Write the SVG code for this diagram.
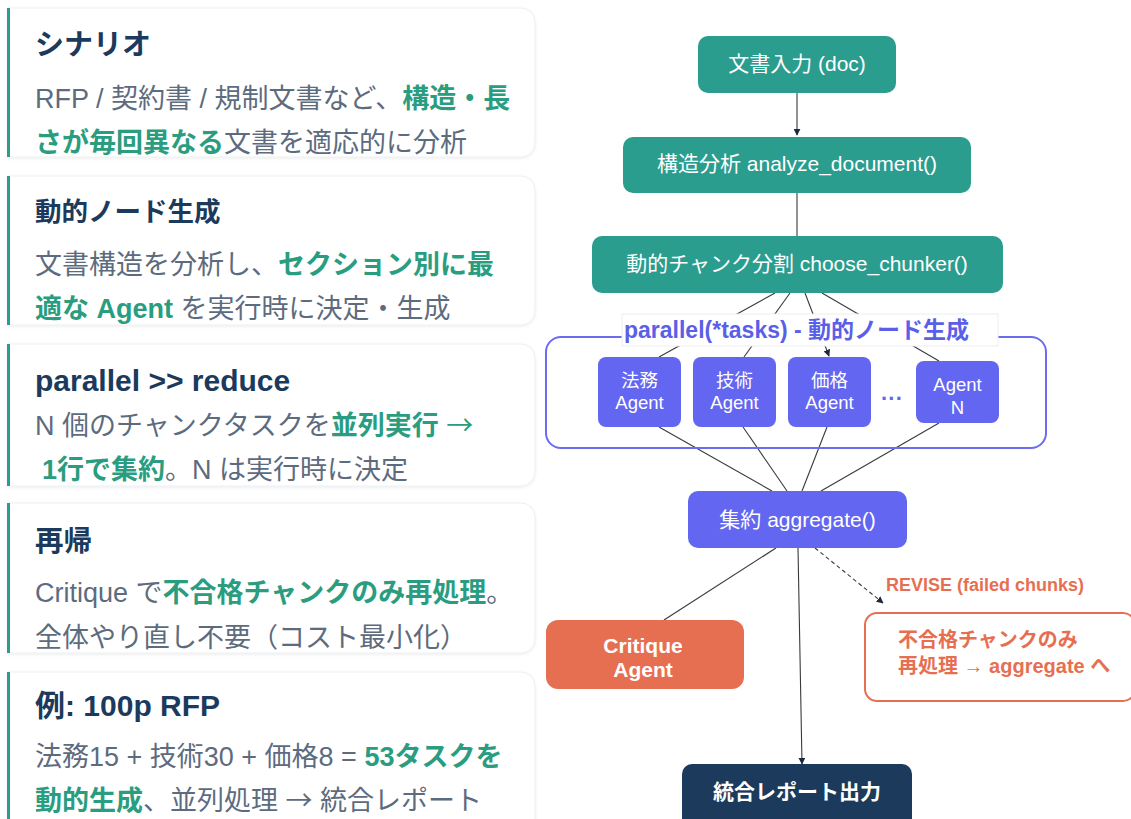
<svg xmlns="http://www.w3.org/2000/svg" width="1131" height="819" viewBox="0 0 1131 819">
<defs>
<marker id="ah" viewBox="0 0 10 10" refX="9" refY="5" markerWidth="7" markerHeight="7" markerUnits="userSpaceOnUse" orient="auto"><path d="M0,0 L10,5 L0,10 Z" fill="#1e293b"/></marker>
<filter id="sh" x="-5%" y="-10%" width="110%" height="125%"><feDropShadow dx="0" dy="1" stdDeviation="1.5" flood-color="#000" flood-opacity="0.08"/></filter>
<style>
text{font-family:"Liberation Sans","Noto Sans CJK JP",sans-serif}
.card{fill:#fff;stroke:#eceff3;stroke-width:1;filter:url(#sh)}
.bar{fill:#2a9d8f}
.ttl{font-weight:700;fill:#1b3a5c}
.bd{font-size:27px;fill:#5d6b7e}
.hl{fill:#2a9d80;font-weight:700}
.arr{font-family:"Noto Sans CJK JP",sans-serif;font-weight:400}
.teal{fill:#2a9d8f}
.ind{fill:#6366f1}
.nt{fill:#fff;font-size:21px;text-anchor:middle}
.at{fill:#fff;font-size:18.5px;text-anchor:middle}
.ln{stroke:#3a3a3a;stroke-width:1.1;fill:none}
.or{fill:#e76f51}
</style>
</defs>

<g id="card-scenario">
<path class="card" d="M8,8 H521 a14,14 0 0 1 14,14 V143 a14,14 0 0 1 -14,14 H8 Z"/>
<rect class="bar" x="7" y="8" width="3" height="149"/>
<text class="ttl" x="35" y="55" font-size="29">シナリオ</text>
<text class="bd" x="35" y="108">RFP / 契約書 / 規制文書など、<tspan class="hl">構造・長</tspan></text>
<text class="bd" x="35" y="152"><tspan class="hl">さが毎回異なる</tspan>文書を適応的に分析</text>
</g>

<g id="card-dynamic">
<path class="card" d="M8,176 H521 a14,14 0 0 1 14,14 V311 a14,14 0 0 1 -14,14 H8 Z"/>
<rect class="bar" x="7" y="176" width="3" height="149"/>
<text class="ttl" x="35" y="221" font-size="26.5">動的ノード生成</text>
<text class="bd" x="35" y="274">文書構造を分析し、<tspan class="hl">セクション別に最</tspan></text>
<text class="bd" x="35" y="318"><tspan class="hl">適な Agent</tspan> を実行時に決定・生成</text>
</g>

<g id="card-parallel">
<path class="card" d="M8,344 H521 a14,14 0 0 1 14,14 V472 a14,14 0 0 1 -14,14 H8 Z"/>
<rect class="bar" x="7" y="344" width="3" height="142"/>
<text class="ttl" x="35" y="391" font-size="30">parallel &gt;&gt; reduce</text>
<text class="bd" x="35" y="435">N 個のチャンクタスクを<tspan class="hl">並列実行 </tspan><tspan class="hl arr">→</tspan></text>
<text class="bd" x="42" y="479"><tspan class="hl">1行で集約</tspan>。N は実行時に決定</text>
</g>

<g id="card-recursion">
<path class="card" d="M8,503 H521 a14,14 0 0 1 14,14 V639 a14,14 0 0 1 -14,14 H8 Z"/>
<rect class="bar" x="7" y="503" width="3" height="150"/>
<text class="ttl" x="35" y="551" font-size="28.5">再帰</text>
<text class="bd" x="35" y="602">Critique で<tspan class="hl">不合格チャンクのみ再処理</tspan>。</text>
<text class="bd" x="35" y="647">全体やり直し不要（コスト最小化）</text>
</g>

<g id="card-example">
<path class="card" d="M8,672 H521 a14,14 0 0 1 14,14 V830 H8 Z"/>
<rect class="bar" x="7" y="672" width="3" height="150"/>
<text class="ttl" x="35" y="716" font-size="30">例: 100p RFP</text>
<text class="bd" x="35" y="766">法務15 + 技術30 + 価格8 = <tspan class="hl">53タスクを</tspan></text>
<text class="bd" x="35" y="810"><tspan class="hl">動的生成</tspan>、並列処理 <tspan class="arr">→</tspan> 統合レポート</text>
</g>

<g id="connectors">
<line class="ln" x1="797" y1="93" x2="797" y2="135" marker-end="url(#ah)"/>
<line class="ln" x1="797" y1="193" x2="797" y2="236"/>
<line class="ln" x1="775" y1="293" x2="659" y2="357"/>
<line class="ln" x1="790" y1="293" x2="744" y2="357"/>
<line class="ln" x1="805" y1="293" x2="829" y2="356" marker-end="url(#ah)"/>
<line class="ln" x1="822" y1="293" x2="939" y2="361"/>
<line class="ln" x1="659" y1="427" x2="772" y2="491"/>
<line class="ln" x1="743" y1="427" x2="787" y2="491"/>
<line class="ln" x1="827" y1="427" x2="802" y2="491"/>
<line class="ln" x1="939" y1="423" x2="821" y2="491"/>
<line class="ln" x1="776" y1="548" x2="664" y2="620"/>
<line class="ln" x1="815" y1="548" x2="883" y2="603" stroke-dasharray="4,3" marker-end="url(#ah)"/>
<line class="ln" x1="798" y1="548" x2="802" y2="764" marker-end="url(#ah)"/>
</g>

<g id="group-parallel">
<rect x="546" y="337" width="500" height="111" rx="15" fill="none" stroke="#6b6cf0" stroke-width="2"/>
<rect x="622" y="314" width="376" height="32" fill="#fff" stroke="#eeeeee" stroke-width="1"/>
<text x="624" y="338" font-size="23" font-weight="700" fill="#5b5fe8">parallel(*tasks) - 動的ノード生成</text>
</g>

<g id="node-doc">
<rect class="teal" x="698" y="36" width="198" height="57" rx="10"/>
<text class="nt" x="797" y="71">文書入力 (doc)</text>
</g>
<g id="node-analyze">
<rect class="teal" x="623" y="137" width="348" height="56" rx="10"/>
<text class="nt" x="797" y="171">構造分析 analyze_document()</text>
</g>
<g id="node-chunker">
<rect class="teal" x="592" y="236" width="411" height="57" rx="10"/>
<text class="nt" x="797" y="271" font-size="21.5">動的チャンク分割 choose_chunker()</text>
</g>

<g id="agent-legal">
<rect class="ind" x="598" y="357" width="83" height="70" rx="8"/>
<text class="at" x="639.5" y="387">法務</text>
<text class="at" x="639.5" y="409">Agent</text>
</g>
<g id="agent-tech">
<rect class="ind" x="693" y="357" width="83" height="70" rx="8"/>
<text class="at" x="734.5" y="387">技術</text>
<text class="at" x="734.5" y="409">Agent</text>
</g>
<g id="agent-price">
<rect class="ind" x="788" y="357" width="83" height="70" rx="8"/>
<text class="at" x="829.5" y="387">価格</text>
<text class="at" x="829.5" y="409">Agent</text>
</g>
<g id="ellipsis">
<text x="892" y="406" font-size="22" font-weight="700" fill="#6366f1" text-anchor="middle">···</text>
</g>
<g id="agent-n">
<rect class="ind" x="916" y="361" width="83" height="62" rx="8"/>
<text class="at" x="957.5" y="391">Agent</text>
<text class="at" x="957.5" y="414">N</text>
</g>

<g id="node-aggregate">
<rect class="ind" x="688" y="491" width="219" height="57" rx="10"/>
<text class="nt" x="797.5" y="527">集約 aggregate()</text>
</g>

<g id="node-critique">
<rect class="or" x="546" y="620" width="198" height="69" rx="12"/>
<text x="643" y="653" font-size="21" font-weight="700" fill="#fff" text-anchor="middle">Critique</text>
<text x="643" y="677" font-size="21" font-weight="700" fill="#fff" text-anchor="middle">Agent</text>
</g>

<g id="label-revise">
<text x="886" y="591" font-size="18" font-weight="700" fill="#e76f51">REVISE (failed chunks)</text>
</g>

<g id="node-revise">
<rect x="865" y="613" width="270" height="88" rx="12" fill="#fff" stroke="#e76f51" stroke-width="2"/>
<text x="898" y="647" font-size="20" font-weight="700" fill="#e76f51">不合格チャンクのみ</text>
<text x="898" y="673" font-size="20" font-weight="700" fill="#e76f51">再処理 → aggregate へ</text>
</g>

<g id="node-report">
<rect x="682" y="764" width="230" height="70" rx="10" fill="#1b3a5c"/>
<text x="797" y="799" font-size="21" font-weight="700" fill="#fff" text-anchor="middle">統合レポート出力</text>
</g>
</svg>
